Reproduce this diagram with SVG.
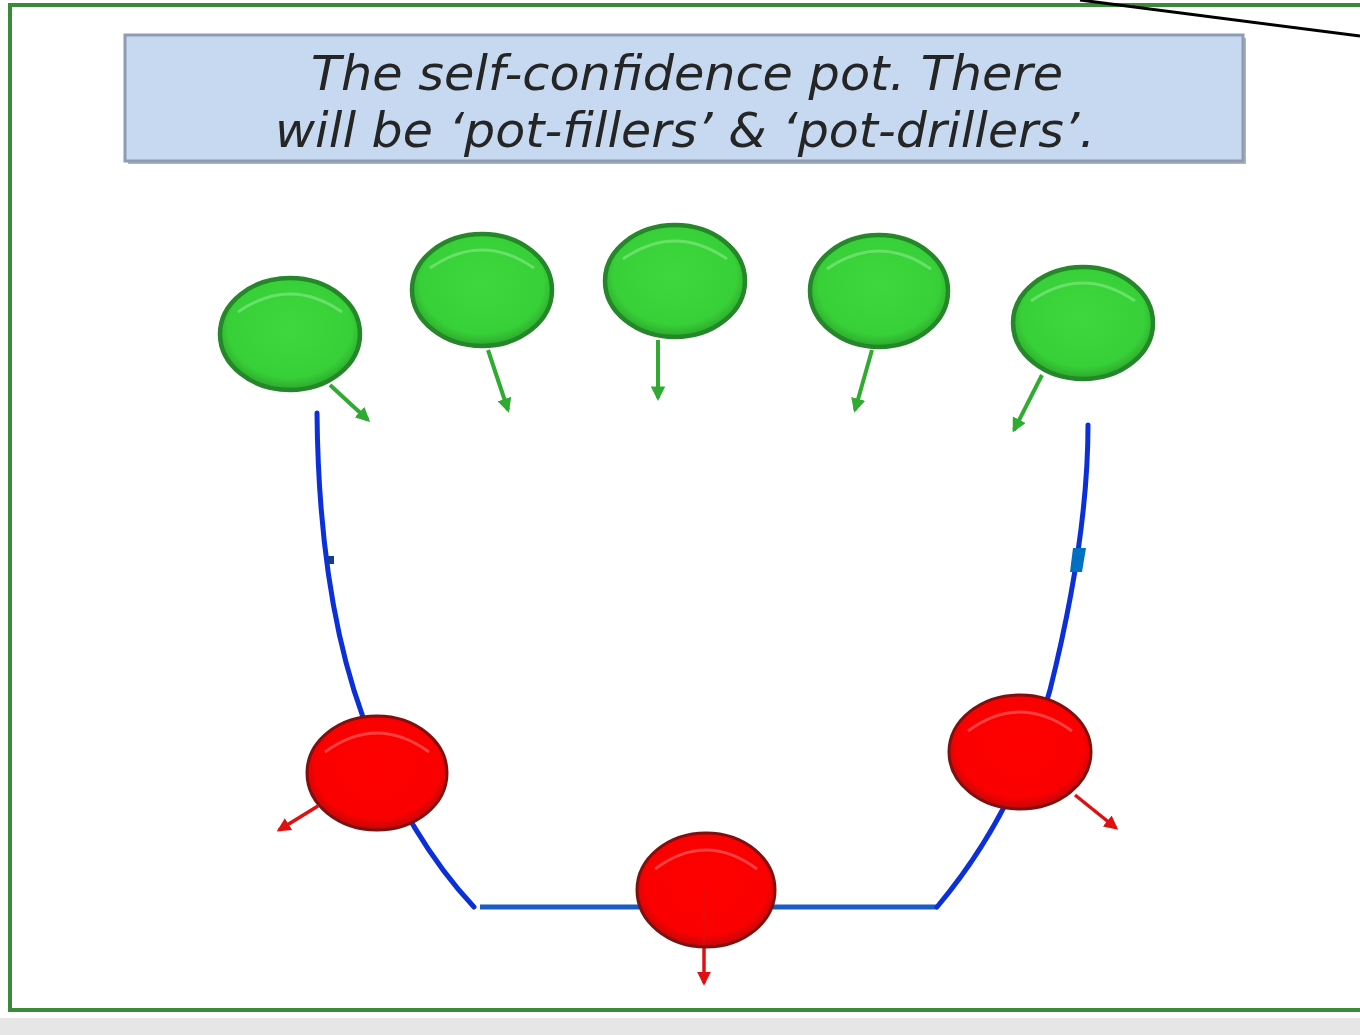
<svg xmlns="http://www.w3.org/2000/svg" width="1360" height="1035" viewBox="0 0 1360 1035">
<style>
.title{font-family:"DejaVu Sans","Liberation Sans",sans-serif;font-style:italic;font-size:48px;fill:#252525;text-anchor:middle}
.pot{fill:none;stroke:#0b2fd8;stroke-width:5;stroke-linecap:round}
.potb{fill:none;stroke:#1a5cc4;stroke-width:5}
.garrow{stroke:#30aa30;stroke-width:4;fill:none}
.rarrow{stroke:#e01010;stroke-width:3.5;fill:none}
.gnode{fill:url(#gg);stroke:#25862a;stroke-width:4.5}
.rnode{fill:url(#rg);stroke:#7e1010;stroke-width:3}
.ghl{fill:none;stroke:#7ae87a;stroke-width:3;opacity:0.7}
.rhl{fill:none;stroke:#ff6a6a;stroke-width:3;opacity:0.6}
</style>
<defs>
<radialGradient id="gg" cx="0.5" cy="0.45" r="0.55">
<stop offset="0" stop-color="#3ed83e"/>
<stop offset="0.8" stop-color="#38d038"/>
<stop offset="1" stop-color="#2aa82a"/>
</radialGradient>
<radialGradient id="rg" cx="0.5" cy="0.45" r="0.55">
<stop offset="0" stop-color="#ff0000"/>
<stop offset="0.82" stop-color="#fa0000"/>
<stop offset="1" stop-color="#c00808"/>
</radialGradient>
<marker id="ga" viewBox="0 0 10 10" refX="8" refY="5" markerWidth="3.6" markerHeight="3.6" orient="auto" markerUnits="strokeWidth">
<path d="M0,0 L10,5 L0,10 z" fill="#30aa30"/>
</marker>
<marker id="ra" viewBox="0 0 10 10" refX="8" refY="5" markerWidth="4" markerHeight="4" orient="auto" markerUnits="strokeWidth">
<path d="M0,0 L10,5 L0,10 z" fill="#e01010"/>
</marker>
</defs>
<rect x="0" y="0" width="1360" height="1035" fill="#ffffff"/>
<rect x="0" y="1018" width="1360" height="17" fill="#e6e6e6"/>
<rect x="10" y="5" width="1360" height="1005" fill="#ffffff" stroke="#3a8a3a" stroke-width="4"/>
<line x1="1080" y1="0" x2="1360" y2="36" stroke="#000" stroke-width="3"/>

<g id="title">
<rect x="128" y="38" width="1118" height="126" fill="#5a6a80" opacity="0.5"/>
<rect x="125" y="35" width="1118" height="126" fill="#c6d9f1" stroke="#8d9cb2" stroke-width="3"/>
<text class="title" x="687" y="90" textLength="752" lengthAdjust="spacingAndGlyphs">The self-confidence pot. There</text>
<text class="title" x="685" y="147" textLength="820" lengthAdjust="spacingAndGlyphs">will be ‘pot-fillers’ &amp; ‘pot-drillers’.</text>
</g>

<g id="connectors">
<path class="pot" d="M317,413 C318,520 330,640 372,740 C395,800 430,860 474,907"/>
<path class="potb" d="M480,907 L937,907"/>
<path class="pot" d="M937,907 C985,850 1025,780 1050,690 C1075,590 1088,500 1088,425"/>
<path d="M1073,548 L1086,548 L1082,572 L1070,572 Z" fill="#0070c0"/>
<rect x="327" y="556" width="7" height="8" fill="#1a3a8a"/>
<line class="garrow" x1="330" y1="385" x2="368" y2="420" marker-end="url(#ga)"/>
<line class="garrow" x1="488" y1="350" x2="508" y2="410" marker-end="url(#ga)"/>
<line class="garrow" x1="658" y1="340" x2="658" y2="398" marker-end="url(#ga)"/>
<line class="garrow" x1="872" y1="350" x2="855" y2="410" marker-end="url(#ga)"/>
<line class="garrow" x1="1042" y1="375" x2="1014" y2="430" marker-end="url(#ga)"/>
<line class="rarrow" x1="318" y1="806" x2="279" y2="830" marker-end="url(#ra)"/>
<line class="rarrow" x1="704" y1="885" x2="704" y2="983" marker-end="url(#ra)"/>
<line class="rarrow" x1="1075" y1="795" x2="1116" y2="828" marker-end="url(#ra)"/>
</g>

<g id="g1"><ellipse class="gnode" cx="290" cy="334" rx="70" ry="56"/><path class="ghl" d="M238,312 Q290,276 342,312"/></g>
<g id="g2"><ellipse class="gnode" cx="482" cy="290" rx="70" ry="56"/><path class="ghl" d="M430,268 Q482,232 534,268"/></g>
<g id="g3"><ellipse class="gnode" cx="675" cy="281" rx="70" ry="56"/><path class="ghl" d="M623,259 Q675,223 727,259"/></g>
<g id="g4"><ellipse class="gnode" cx="879" cy="291" rx="69" ry="56"/><path class="ghl" d="M827,269 Q879,233 931,269"/></g>
<g id="g5"><ellipse class="gnode" cx="1083" cy="323" rx="70" ry="56"/><path class="ghl" d="M1031,301 Q1083,265 1135,301"/></g>

<g id="r1"><ellipse class="rnode" cx="377" cy="773" rx="70" ry="57"/><path class="rhl" d="M325,752 Q377,714 429,752"/></g>
<g id="r2"><ellipse class="rnode" cx="706" cy="890" rx="69" ry="57"/><path class="rhl" d="M655,869 Q706,831 757,869"/><line x1="704" y1="885" x2="704" y2="945" stroke="#e01010" stroke-width="2" opacity="0.6"/></g>
<g id="r3"><ellipse class="rnode" cx="1020" cy="752" rx="71" ry="57"/><path class="rhl" d="M968,731 Q1020,693 1072,731"/></g>
</svg>
